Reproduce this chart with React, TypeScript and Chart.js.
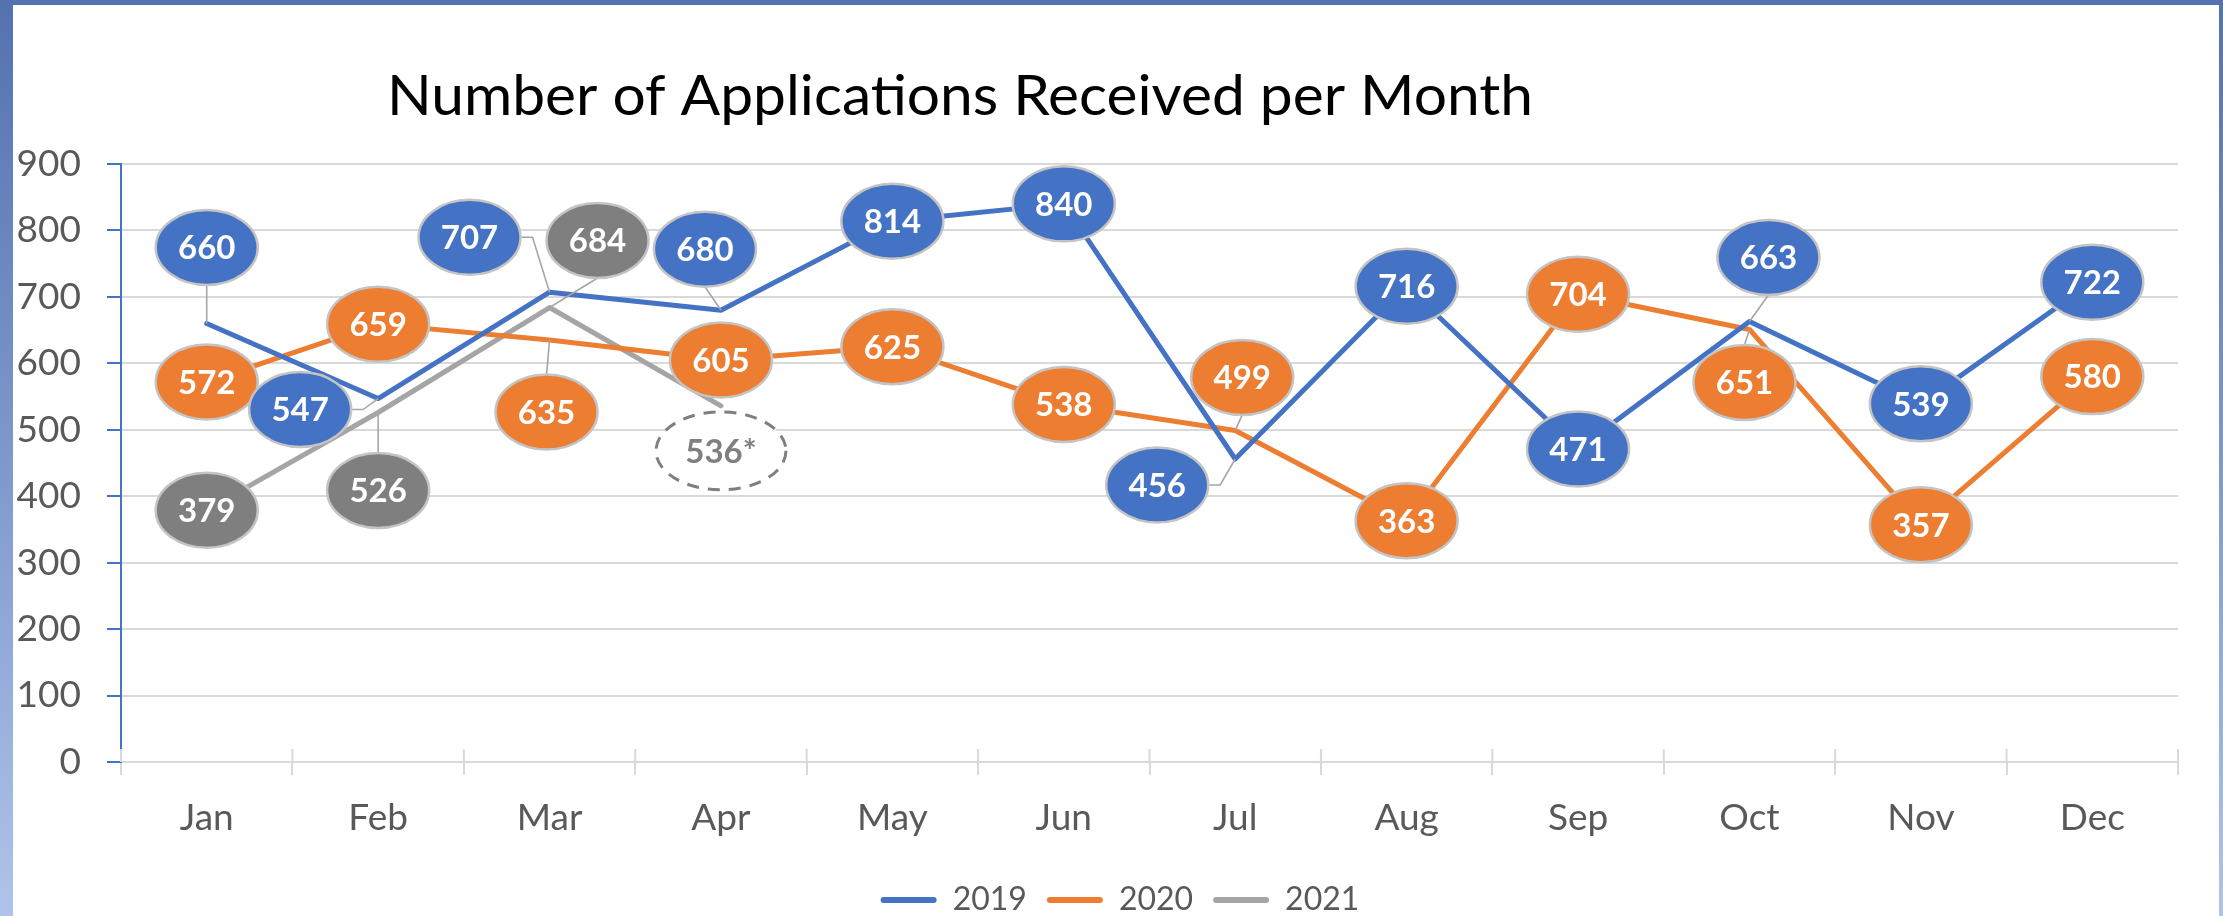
import React, { useEffect, useRef } from "react";
import { Chart, registerables } from "chart.js";

Chart.register(...registerables);

// ---------- data ----------
const TITLE = "Number of Applications Received per Month";
const MONTHS = ["Jan", "Feb", "Mar", "Apr", "May", "Jun", "Jul", "Aug", "Sep", "Oct", "Nov", "Dec"];
const SERIES_NAMES = ["2019", "2020", "2021"];
const APPS_2019 = [660, 547, 707, 680, 814, 840, 456, 716, 471, 663, 539, 722];
const APPS_2020 = [572, 659, 635, 605, 625, 538, 499, 363, 704, 651, 357, 580];
const APPS_2021 = [379, 526, 684, 536, null, null, null, null, null, null, null, null];
const ESTIMATED_2021 = [false, false, false, true, false, false, false, false, false, false, false, false];
const Y_MIN = 0;
const Y_MAX = 900;
const Y_STEP = 100;

// ---------- style / layout ----------
const LINE_COLORS = ["#4472C4", "#ED7D31", "#A5A5A5"];
const CALLOUT_FILLS = ["#4472C4", "#ED7D31", "#7F7F7F"];
// callout centre offsets from their data point, in pixels [dx, dy]
const CALLOUT_OFFSETS_2019 = [[0, -76], [-78, 11], [-80, -55], [-16, -61], [0, 0], [0, 0], [-78, 26], [0, 0], [0, 0], [19, -64], [0, 0], [0, 0]];
const CALLOUT_OFFSETS_2020 = [[0, 0], [0, 0], [-3, 72], [0, 0], [0, 0], [0, 0], [7, -53], [0, 0], [0, 0], [-5, 53], [0, 0], [0, 0]];
const CALLOUT_OFFSETS_2021 = [[0, 0], [0, 78], [48, -67], [0, 45], [0, 0], [0, 0], [0, 0], [0, 0], [0, 0], [0, 0], [0, 0], [0, 0]];
const CALLOUT_OFFSETS = [CALLOUT_OFFSETS_2019, CALLOUT_OFFSETS_2020, CALLOUT_OFFSETS_2021];
const RX = 51;
const RY = 37.5;
const EST_RX = 65;
const EST_RY = 39;

const W = 2223;
const H = 916;
const LEGEND_LEFT = 62;

const titlePlugin = {
  id: "leftTitle",
  beforeDraw(chart: any) {
    const ctx = chart.ctx;
    ctx.save();
    ctx.font = "56px Lato";
    ctx.fillStyle = "#000000";
    ctx.textAlign = "left";
    ctx.textBaseline = "alphabetic";
    const w = ctx.measureText(TITLE).width;
    const target = 1146;
    ctx.translate(387, 115);
    ctx.scale(target / w, 1);
    ctx.fillText(TITLE, 0, 0);
    ctx.restore();
  },
};

const legendShiftPlugin = {
  id: "legendShift",
  afterLayout(chart: any) {
    if (chart.legend) chart.legend.left = LEGEND_LEFT;
  },
};

const crossTicksPlugin = {
  id: "crossTicks",
  beforeDatasetsDraw(chart: any) {
    const ctx = chart.ctx;
    const xs = chart.scales.x;
    const bottom = chart.chartArea.bottom;
    ctx.save();
    ctx.strokeStyle = "#D9D9D9";
    ctx.lineWidth = 2;
    for (let i = 0; i <= MONTHS.length; i++) {
      const x = xs.getPixelForValue(i - 0.5);
      ctx.beginPath();
      ctx.moveTo(x, bottom - 13);
      ctx.lineTo(x, bottom);
      ctx.stroke();
    }
    ctx.restore();
  },
};

const calloutPlugin = {
  id: "callouts",
  afterDatasetsDraw(chart: any) {
    const ctx = chart.ctx;
    const order = [2, 1, 0];
    ctx.save();
    for (const di of order) {
      const meta = chart.getDatasetMeta(di);
      const values = chart.data.datasets[di].data;
      meta.data.forEach((pt: any, i: number) => {
        const v = values[i];
        if (v === null || v === undefined) return;
        const [dx, dy] = CALLOUT_OFFSETS[di][i];
        const px = pt.x;
        const py = pt.y;
        const cx = px + dx;
        const cy = py + dy;
        const est = di === 2 && ESTIMATED_2021[i];
        // leader line
        if (!est && (Math.abs(dx) > 4 || Math.abs(dy) > RY)) {
          ctx.setLineDash([]);
          ctx.strokeStyle = "#A6A6A6";
          ctx.lineWidth = 1.6;
          ctx.beginPath();
          if (Math.abs(dx) > RX) {
            const s = dx < 0 ? 1 : -1;
            ctx.moveTo(cx + s * RX, cy);
            ctx.lineTo(cx + s * (RX + 12), cy);
          } else {
            const s = dy < 0 ? 1 : -1;
            ctx.moveTo(cx, cy + s * RY);
          }
          ctx.lineTo(px, py);
          ctx.stroke();
        }
        ctx.beginPath();
        if (est) {
          ctx.ellipse(cx, cy, EST_RX, EST_RY, 0, 0, Math.PI * 2);
          ctx.fillStyle = "#FFFFFF";
          ctx.fill();
          ctx.setLineDash([12, 9]);
          ctx.lineWidth = 3;
          ctx.strokeStyle = "#7F7F7F";
          ctx.stroke();
          ctx.setLineDash([]);
        } else {
          ctx.ellipse(cx, cy, RX, RY, 0, 0, Math.PI * 2);
          ctx.fillStyle = CALLOUT_FILLS[di];
          ctx.fill();
          ctx.lineWidth = 2.5;
          ctx.strokeStyle = "#C4C4C4";
          ctx.stroke();
        }
        ctx.font = "bold 33px Lato";
        ctx.textAlign = "center";
        ctx.textBaseline = "alphabetic";
        ctx.fillStyle = est ? "#7F7F7F" : "#FFFFFF";
        ctx.fillText(String(v) + (est ? "*" : ""), cx, cy + 11.8);
      });
    }
    ctx.restore();
  },
};

export default function App() {
  const canvasRef = useRef<HTMLCanvasElement | null>(null);

  useEffect(() => {
    if (!canvasRef.current) return;
    Chart.defaults.font.family = "Lato";
    const seriesData = [APPS_2019, APPS_2020, APPS_2021];
    const chart = new Chart(canvasRef.current, {
      type: "line",
      data: {
        labels: MONTHS,
        datasets: SERIES_NAMES.map((name, k) => ({
          label: name,
          data: seriesData[k],
          borderColor: LINE_COLORS[k],
          backgroundColor: LINE_COLORS[k],
          borderWidth: 5,
          pointRadius: 0,
          pointHoverRadius: 0,
          tension: 0,
          fill: false,
          spanGaps: false,
          borderJoinStyle: "round" as const,
          borderCapStyle: "round" as const,
        })),
      },
      options: {
        animation: false,
        responsive: true,
        maintainAspectRatio: false,
        layout: { padding: { left: 0, right: 45, top: 164, bottom: -10 } },
        plugins: {
          title: { display: false },
          tooltip: { enabled: false },
          legend: {
            display: true,
            position: "bottom",
            labels: {
              boxWidth: 56,
              boxHeight: 6,
              padding: 20,
              color: "#595959",
              useBorderRadius: true,
              borderRadius: 3,
              font: { family: "Lato", size: 32 },
              generateLabels: (c: any) =>
                Chart.defaults.plugins.legend.labels.generateLabels(c).map((l: any) => ({
                  ...l,
                  lineWidth: 0,
                  fillStyle: l.strokeStyle,
                })),
            },
          },
        },
        scales: {
          x: {
            type: "category",
            offset: true,
            afterFit: (s: any) => {
              s.height = 102;
            },
            grid: {
              display: true,
              offset: true,
              drawOnChartArea: false,
              drawTicks: true,
              tickLength: 13,
              color: "#D9D9D9",
              lineWidth: 2,
            },
            border: { display: true, color: "#D9D9D9", width: 2 },
            ticks: {
              color: "#595959",
              padding: 21,
              font: { family: "Lato", size: 37 },
              maxRotation: 0,
              autoSkip: false,
            },
          },
          y: {
            min: Y_MIN,
            max: Y_MAX,
            afterFit: (s: any) => {
              s.width = 121;
            },
            grid: {
              color: "#D9D9D9",
              lineWidth: 2,
              drawTicks: true,
              tickLength: 14,
              tickColor: "#4472C4",
              tickWidth: 2,
            },
            border: { display: true, color: "#4472C4", width: 2 },
            ticks: {
              stepSize: Y_STEP,
              color: "#595959",
              padding: 26,
              font: { family: "Lato", size: 37 },
            },
          },
        },
      },
      plugins: [titlePlugin, legendShiftPlugin, crossTicksPlugin, calloutPlugin],
    });
    return () => chart.destroy();
  }, []);

  return (
    <div
      style={{
        position: "fixed",
        left: 0,
        top: 0,
        width: W,
        height: H,
        background: "linear-gradient(to bottom, #5472B0 0%, #7E98CC 50%, #AFC4EA 100%)",
        overflow: "hidden",
      }}
    >
      <div
        style={{
          position: "absolute",
          left: 13,
          top: 5,
          width: W - 13 - 4,
          height: H - 5,
          background: "#FFFFFF",
        }}
      />
      <div style={{ position: "absolute", left: 0, top: 0, width: W, height: H }}>
        <canvas ref={canvasRef} />
      </div>
    </div>
  );
}
